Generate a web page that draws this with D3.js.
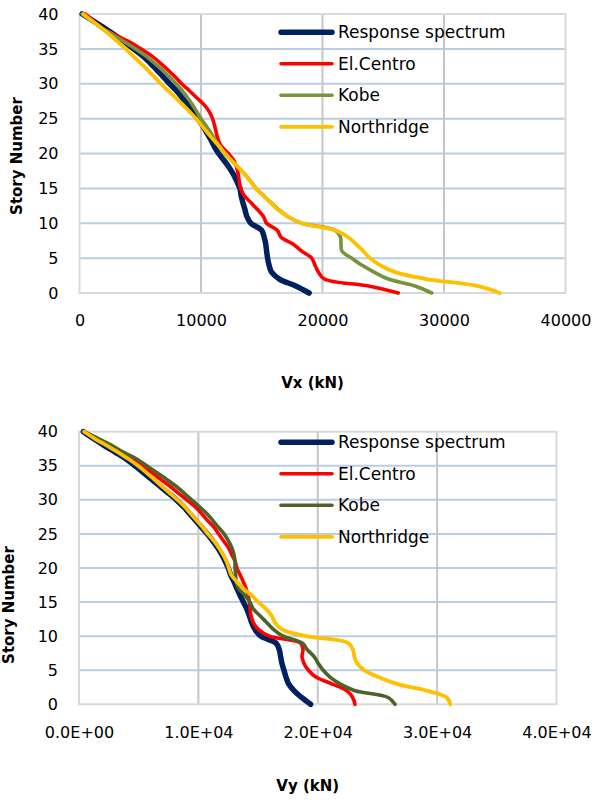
<!DOCTYPE html>
<html>
<head>
<meta charset="utf-8">
<script src="https://cdn.jsdelivr.net/npm/d3@7"></script>
<style>
  html, body { margin: 0; padding: 0; background: #fff; }
  svg { display: block; }
</style>
</head>
<body>
<svg id="chart" width="595" height="805"></svg>
<script>
// Story levels (ground = 0, roof = 40)
const stories = [0, 1, 2, 3, 4, 5, 6, 7, 8, 9, 10, 11, 12, 13, 14, 15, 16, 17, 18, 19, 20,
                 21, 22, 23, 24, 25, 26, 27, 28, 29, 30, 31, 32, 33, 34, 35, 36, 37, 38, 39, 40];

const seriesNames = ["Response spectrum", "El.Centro", "Kobe", "Northridge"];

// Story shear Vx (kN), listed from story 0 up to story 40
const vxResponse   = [18900, 17800, 16450, 15800, 15600, 15480, 15400, 15330, 15200, 14990, 14100,
                      13770, 13610, 13440, 13300, 13200, 12950, 12670, 12320, 11900, 11450,
                      11100, 10800, 10470, 10120, 9730, 9330, 8900, 8450, 7980, 7420,
                      6900, 6350, 5800, 5200, 4450, 3700, 2900, 2050, 1150, 220];
const vxElCentro   = [26240, 23790, 20150, 19660, 19380, 19110, 18290, 17600, 16590, 16280, 15400,
                      15130, 14630, 14090, 13540, 13270, 13150, 13070, 12930, 12700, 12250,
                      11700, 11400, 11260, 11120, 10950, 10680, 10250, 9650, 9040, 8410,
                      7860, 7260, 6630, 5940, 5050, 4100, 2920, 1830, 1140, 450];
const vxKobe       = [28990, 27610, 25420, 24240, 23230, 22400, 21600, 21520, 21480, 21030, 18300,
                      17100, 16360, 15730, 15130, 14530, 14090, 13620, 13070, 12520, 11950,
                      11560, 11150, 10800, 10410, 10000, 9650, 9300, 8900, 8450, 7950,
                      7400, 6800, 6150, 5450, 4600, 3700, 2780, 1830, 1000, 220];
const vxNorthridge = [34600, 32820, 28580, 25970, 24730, 23910, 23360, 22760, 22120, 21030, 18300,
                      17100, 16300, 15700, 15100, 14500, 14060, 13600, 13070, 12520, 11980,
                      11510, 11010, 10520, 10060, 9600, 9050, 8500, 7900, 7300, 6700,
                      6150, 5600, 5000, 4400, 3800, 3150, 2500, 1800, 1050, 310];

// Story shear Vy (kN), listed from story 0 up to story 40
const vyResponse   = [19400, 18650, 18010, 17560, 17340, 17170, 17000, 16890, 16780, 16500, 15220,
                      14740, 14460, 14270, 14050, 13770, 13490, 13230, 12980, 12700, 12500,
                      12250, 11950, 11600, 11200, 10750, 10250, 9750, 9250, 8750, 8150,
                      7480, 6790, 6090, 5390, 4690, 3940, 3020, 2090, 1200, 360];
const vyElCentro   = [23120, 22930, 22420, 21170, 19850, 19220, 18850, 18680, 18760, 18550, 15950,
                      15020, 14600, 14410, 14320, 14270, 14160, 13990, 13760, 13490, 13230,
                      13070, 12790, 12510, 12100, 11700, 11300, 10750, 10270, 9720, 9020,
                      8320, 7620, 6840, 6090, 5250, 4410, 3430, 2460, 1480, 500];
const vyKobe       = [26470, 25900, 23120, 21860, 21030, 20460, 20050, 19690, 19130, 18700, 17100,
                      16280, 15720, 15160, 14600, 14320, 13900, 13350, 13170, 13120, 13070,
                      13070, 12980, 12790, 12510, 12150, 11670, 11200, 10700, 10080, 9440,
                      8800, 8130, 7350, 6510, 5670, 4830, 3710, 2740, 1620, 360];
const vyNorthridge = [31100, 30800, 29130, 26610, 25070, 23900, 23300, 23070, 22950, 22530, 19010,
                      17000, 16420, 16140, 15660, 15020, 14460, 13760, 13210, 12750, 12550,
                      12350, 12050, 11700, 11300, 10800, 10350, 9850, 9350, 8850, 8250,
                      7600, 6950, 6300, 5650, 4950, 4150, 3250, 2300, 1300, 450];

const xTicks = [0, 10000, 20000, 30000, 40000];
const yTicks = [0, 5, 10, 15, 20, 25, 30, 35, 40];

// Scientific tick text such as 1.0E+04
function sciFormat(v) {
  const e = v === 0 ? 0 : Math.floor(Math.log10(Math.abs(v)));
  const m = v / Math.pow(10, e);
  return m.toFixed(1) + "E" + (e < 0 ? "-" : "+") + String(Math.abs(e)).padStart(2, "0");
}

const svg = d3.select("#chart");
svg.append("rect").attr("width", 595).attr("height", 805).attr("fill", "#fff");

const panels = [
  {
    box: { left: 79.5, right: 565.5, top: 14, bottom: 293 },
    series: [vxResponse, vxElCentro, vxKobe, vxNorthridge],
    colors: ["#002060", "#ff0000", "#77933c", "#ffc000"],
    tickFormat: d3.format("d"),
    xPad: 22,
    title: "Vx (kN)", titleY: 388,
    yTitleX: 21.5, yTitleY: 156,
    legendY: 32.3
  },
  {
    box: { left: 79, right: 556.5, top: 431.7, bottom: 704.3 },
    series: [vyResponse, vyElCentro, vyKobe, vyNorthridge],
    colors: ["#002060", "#ff0000", "#4f6228", "#ffc000"],
    tickFormat: sciFormat,
    xPad: 22,
    title: "Vy (kN)", titleY: 791,
    yTitleX: 14, yTitleY: 605,
    legendY: 442.3
  }
];

const widths = [5.5, 3.6, 3.6, 3.8];

panels.forEach(p => {
  const b = p.box;
  const x = d3.scaleLinear().domain([0, 40000]).range([b.left, b.right]);
  const y = d3.scaleLinear().domain([0, 40]).range([b.bottom, b.top]);
  const g = svg.append("g");

  // horizontal gridlines (light blue)
  g.append("g").selectAll("line")
    .data(yTicks.filter(t => t > 0 && t < 40))
    .join("line")
    .attr("x1", b.left).attr("x2", b.right)
    .attr("y1", d => y(d)).attr("y2", d => y(d))
    .attr("stroke", "#b9cde5").attr("stroke-width", 2);

  // vertical gridlines (grey)
  g.append("g").selectAll("line")
    .data(xTicks.filter(t => t > 0 && t < 40000))
    .join("line")
    .attr("x1", d => x(d)).attr("x2", d => x(d))
    .attr("y1", b.top).attr("y2", b.bottom)
    .attr("stroke", "#c6c6c6").attr("stroke-width", 2);

  // plot-area frame
  g.append("rect")
    .attr("x", b.left).attr("y", b.top)
    .attr("width", b.right - b.left).attr("height", b.bottom - b.top)
    .attr("fill", "none").attr("stroke", "#d9d9d9").attr("stroke-width", 2);

  // axes (labels only)
  const yAxis = d3.axisLeft(y).tickValues(yTicks).tickSize(0).tickPadding(21);
  const xAxis = d3.axisBottom(x).tickValues(xTicks).tickSize(0).tickPadding(p.xPad).tickFormat(p.tickFormat);

  const ya = g.append("g").attr("transform", `translate(${b.left},0)`).call(yAxis);
  const xa = g.append("g").attr("transform", `translate(0,${b.bottom})`).call(xAxis);
  [ya, xa].forEach(a => {
    a.select(".domain").remove();
    a.selectAll("text")
      .attr("font-family", "DejaVu Sans, sans-serif")
      .attr("font-size", 16)
      .attr("fill", "#000");
  });

  // series lines
  const line = d3.line()
    .x(d => x(d.v))
    .y(d => y(d.s))
    .curve(d3.curveCatmullRom.alpha(0.5));

  p.series.forEach((vals, i) => {
    const pts = stories.map((s, k) => ({ s: s, v: vals[k] }));
    g.append("path")
      .datum(pts)
      .attr("d", line)
      .attr("fill", "none")
      .attr("stroke", p.colors[i])
      .attr("stroke-width", widths[i])
      .attr("stroke-linejoin", "round")
      .attr("stroke-linecap", "round");
  });

  // legend
  const lg = g.append("g");
  seriesNames.forEach((name, i) => {
    const ly = p.legendY + i * 31.5;
    lg.append("line")
      .attr("x1", 281).attr("x2", 332)
      .attr("y1", ly).attr("y2", ly)
      .attr("stroke", p.colors[i])
      .attr("stroke-width", widths[i])
      .attr("stroke-linecap", "round");
    lg.append("text")
      .attr("x", 338).attr("y", ly)
      .attr("dy", "0.36em")
      .attr("font-family", "DejaVu Sans, sans-serif")
      .attr("font-size", 17)
      .attr("fill", "#000")
      .text(name);
  });

  // axis titles
  g.append("text")
    .attr("x", (b.left + b.right) / 2 - 10)
    .attr("y", p.titleY)
    .attr("text-anchor", "middle")
    .attr("font-family", "DejaVu Sans, sans-serif")
    .attr("font-weight", "bold")
    .attr("font-size", 15)
    .attr("fill", "#000")
    .text(p.title);

  g.append("text")
    .attr("transform", `translate(${p.yTitleX},${p.yTitleY}) rotate(-90)`)
    .attr("text-anchor", "middle")
    .attr("font-family", "DejaVu Sans, sans-serif")
    .attr("font-weight", "bold")
    .attr("font-size", 15)
    .attr("fill", "#000")
    .text("Story Number");
});
</script>
</body>
</html>
